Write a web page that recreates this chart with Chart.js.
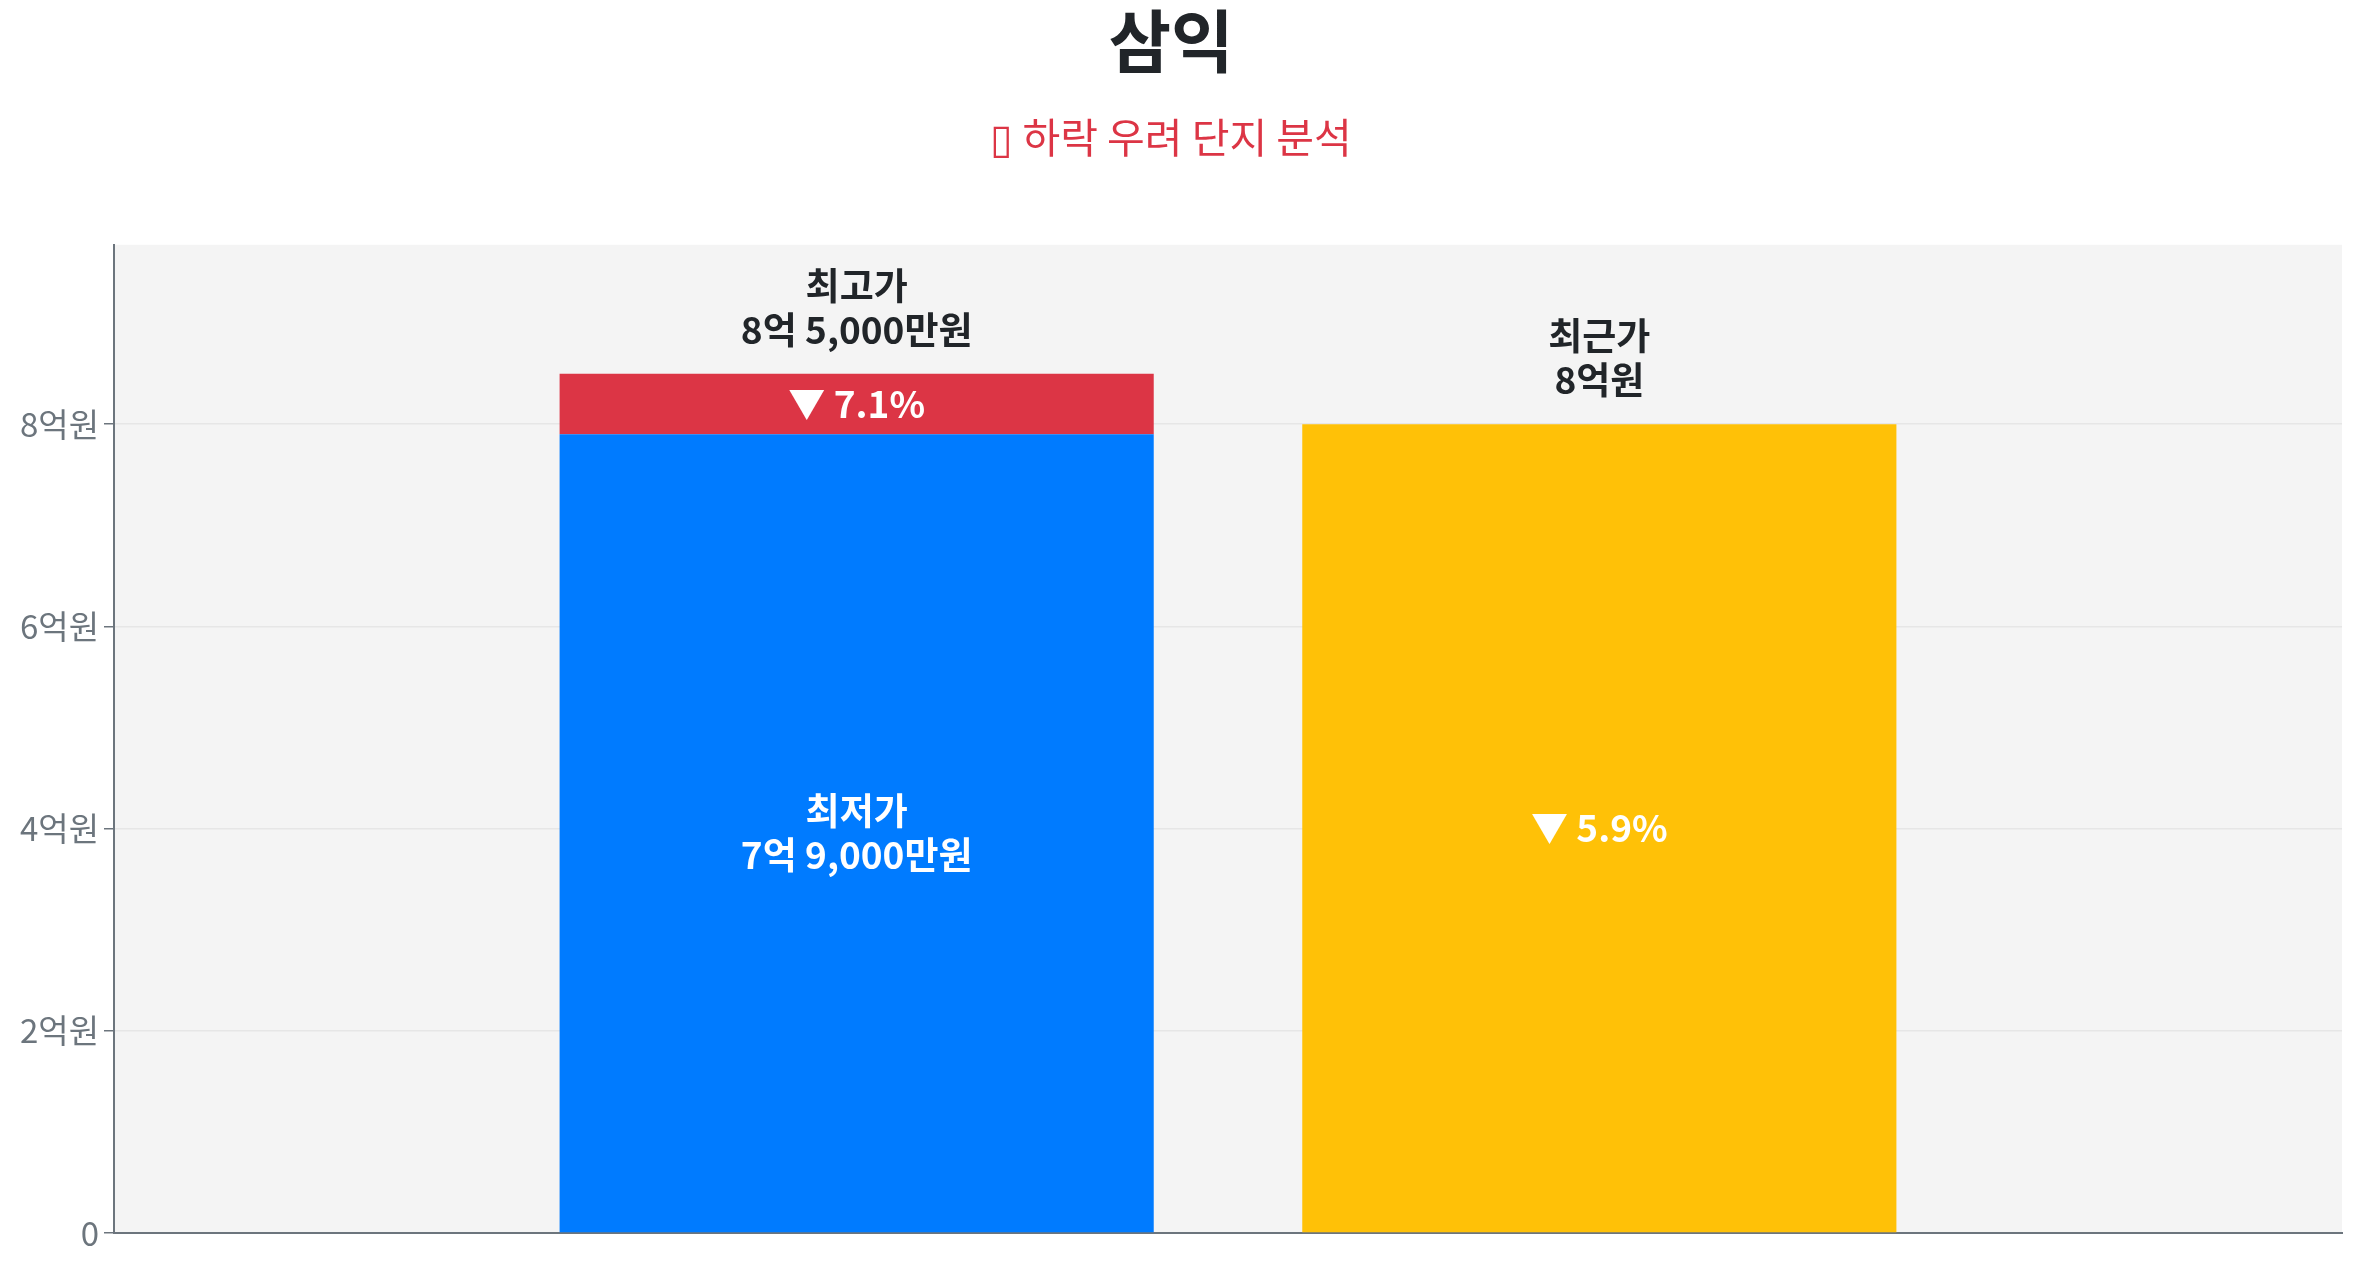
<!DOCTYPE html>
<html lang="ko">
<head>
<meta charset="utf-8">
<title>삼익</title>
<script src="https://cdn.jsdelivr.net/npm/chart.js@4/dist/chart.umd.min.js"></script>
<style>
  html, body { margin: 0; padding: 0; background: #ffffff; }
  #wrap { width: 100vw; height: 100vh; position: relative; }
</style>
</head>
<body>
<div id="wrap"><canvas id="myChart"></canvas></div>
<script>
//////////////////////////////////// INPUTS

// Chart text
var titleText = "삼익";
var subtitleText = "▯ 하락 우려 단지 분석";

// X categories (blank ends keep the two bars off the axes)
var categories = ['', '최고가/최저가', '최근가', ''];

// Prices, unit = 억원
var highestPrice = 8.5;
var lowestPrice = 7.9;
var recentPrice = 8.0;

// Series per category
var lowSeries = [null, lowestPrice, null, null];
var dropSeries = [null, highestPrice - lowestPrice, null, null];
var recentSeries = [null, null, recentPrice, null];

// Y axis ticks
var yStep = 2;

var FONT = '"Noto Sans CJK KR", "Noto Sans", sans-serif';
var DARK = '#212529';
var GREY = '#6c757d';

//////////////////////////////////// Helpers

// 8.5 -> "8억 5,000만원", 8 -> "8억원"
function formatPrice(v) {
    var eok = Math.floor(v + 1e-9);
    var man = Math.round((v - eok) * 10000);
    if (man === 0) return eok + '억원';
    return eok + '억 ' + man.toLocaleString('en-US') + '만원';
}

function dropPct(from, to) {
    return ((from - to) / from * 100).toFixed(1);
}

// grey plot background
const areaBg = {
    id: 'areaBg',
    beforeDraw(chart) {
        const { ctx, chartArea: a } = chart;
        ctx.save();
        ctx.fillStyle = '#f4f4f4';
        ctx.fillRect(a.left, a.top, a.right - a.left, a.bottom - a.top);
        ctx.restore();
    }
};

// text on and above the bars
const barText = {
    id: 'barText',
    afterDatasetsDraw(chart) {
        const ctx = chart.ctx;
        const low = chart.getDatasetMeta(0).data[1];
        const drop = chart.getDatasetMeta(1).data[1];
        const rec = chart.getDatasetMeta(2).data[2];
        const lh = 44;

        ctx.save();
        ctx.textAlign = 'center';
        ctx.textBaseline = 'middle';
        ctx.font = 'bold 37px ' + FONT;

        // above the stacked bar
        ctx.fillStyle = DARK;
        ctx.fillText('최고가', drop.x, drop.y - 44 - lh);
        ctx.fillText(formatPrice(highestPrice), drop.x, drop.y - 44);

        // above the recent bar
        ctx.fillText('최근가', rec.x, rec.y - 44 - lh);
        ctx.fillText(formatPrice(recentPrice), rec.x, rec.y - 44);

        ctx.fillStyle = '#ffffff';
        // inside red segment
        ctx.fillText('▼ ' + dropPct(highestPrice, lowestPrice) + '%', drop.x, (drop.y + drop.base) / 2);
        // inside blue bar
        const midLow = (low.y + low.base) / 2;
        ctx.fillText('최저가', low.x, midLow - lh / 2);
        ctx.fillText(formatPrice(lowestPrice), low.x, midLow + lh / 2);
        // inside yellow bar
        ctx.fillText('▼ ' + dropPct(highestPrice, recentPrice) + '%', rec.x, (rec.y + rec.base) / 2);
        ctx.restore();
    }
};

//////////////////////////////////// Setup Chart

const data = {
    labels: categories,
    datasets: [
        { label: '최저가', data: lowSeries, backgroundColor: '#007bff' },
        { label: '하락폭', data: dropSeries, backgroundColor: '#dc3545' },
        { label: '최근가', data: recentSeries, backgroundColor: '#ffc107' },
    ]
};

const config = {
    type: 'bar',
    data,
    options: {
        responsive: true,
        maintainAspectRatio: false,
        animation: false,
        categoryPercentage: 0.8,
        barPercentage: 1.0,
        layout: { padding: { left: 0, right: 16, top: 0, bottom: 27 } },
        scales: {
            x: {
                stacked: true,
                offset: false,
                grid: { display: false },
                ticks: { display: false },
                border: { display: true, color: GREY, width: 2 }
            },
            y: {
                stacked: true,
                min: 0,
                max: highestPrice * 1.15,
                afterFit(scale) { scale.width = 114; },
                // keep only the round steps, not the max
                afterBuildTicks(scale) {
                    scale.ticks = scale.ticks.filter(t => Math.abs(t.value % yStep) < 1e-6);
                },
                ticks: {
                    stepSize: yStep,
                    color: GREY,
                    padding: 5,
                    font: { family: FONT, size: 33 },
                    callback: (v) => v === 0 ? '0' : v + '억원'
                },
                grid: {
                    color: '#e6e6e6',
                    lineWidth: 1.5,
                    tickColor: GREY,
                    tickLength: 10
                },
                border: { display: true, color: GREY, width: 2 }
            }
        },
        plugins: {
            legend: { display: false },
            tooltip: { enabled: false },
            title: {
                display: true,
                text: titleText,
                color: DARK,
                font: { family: FONT, size: 68, weight: 'bold' },
                padding: { top: 0, bottom: 31 }
            },
            subtitle: {
                display: true,
                text: subtitleText,
                color: '#dc3545',
                font: { family: FONT, size: 41 },
                padding: { top: 0, bottom: 83 }
            }
        }
    },
    plugins: [areaBg, barText]
};

var myChart = new Chart(document.getElementById('myChart'), config);
</script>
</body>
</html>
